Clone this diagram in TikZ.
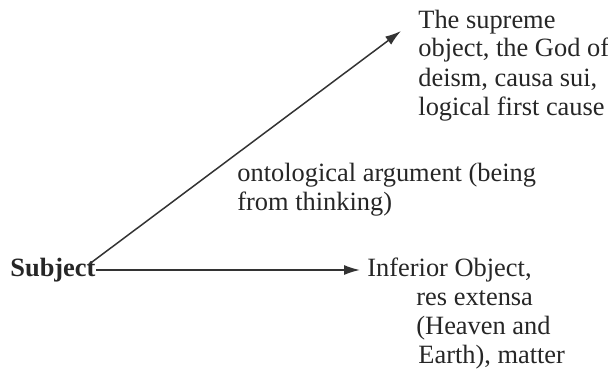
\documentclass[tikz,border=0pt]{standalone}
\usepackage{fontspec}
\setmainfont{Liberation Serif}
\usetikzlibrary{arrows.meta}
\begin{document}
\begin{tikzpicture}[x=0.5pt,y=-0.5pt,
  lbl/.style={font=\fontsize{13.2}{14.5}\selectfont, inner sep=0pt, align=left, anchor=base west, text=black!85},
  arr/.style={draw=black!80, line width=0.75pt, -{Latex[length=8pt,width=5pt]}}]
\useasboundingbox (0,0) rectangle (608,374);
\node[lbl,font=\fontsize{13.2}{14.5}\selectfont\bfseries] (subj) at (10,276) {Subject};
% base anchor of a multi-line node lies on its last line
\node[lbl] (sup) at (418,115) {The supreme\\object, the God of\\deism, causa sui,\\logical first cause};
\node[lbl] (arg) at (237,210) {ontological argument (being\\from thinking)};
\node[lbl] (inf) at (367,363) {Inferior Object,\\\hspace*{24.5pt}res extensa\\\hspace*{24.5pt}(Heaven and\\\hspace*{25.5pt}Earth), matter};
\coordinate (start) at (88,265);
\coordinate (tip) at (401,31);
\coordinate (htip) at (360,270);
\draw[arr] (start) -- (tip);
\draw[arr] (subj.east |- htip) -- (htip);
\end{tikzpicture}
\end{document}
